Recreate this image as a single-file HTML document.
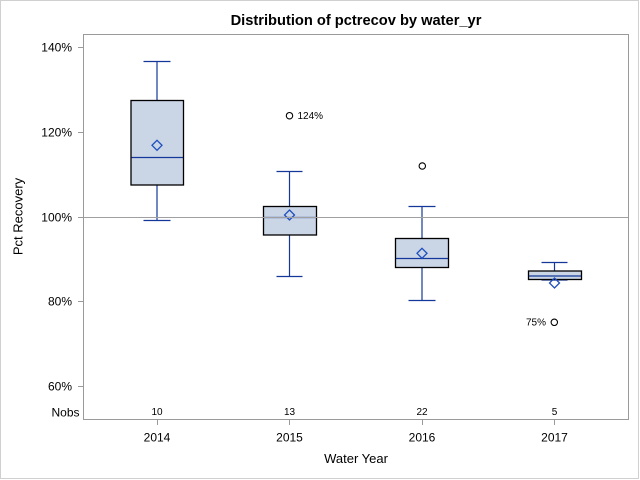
<!DOCTYPE html>
<html>
<head>
<meta charset="utf-8">
<style>
html,body{margin:0;padding:0;background:#fff;}
svg{display:block;}
text{font-family:"Liberation Sans",Arial,sans-serif;fill:#000;}
</style>
</head>
<body>
<svg width="640" height="480" viewBox="0 0 640 480" xmlns="http://www.w3.org/2000/svg">
  <rect x="0" y="0" width="640" height="480" fill="#fff"/>
  <rect x="0.5" y="0.5" width="638" height="478" fill="none" stroke="#d0d0d0" stroke-width="1"/>

  <!-- Title -->
  <text x="356" y="25" font-size="14.67" font-weight="bold" text-anchor="middle">Distribution of pctrecov by water_yr</text>

  <!-- Plot frame -->
  <rect x="83.5" y="34.5" width="545" height="385" fill="none" stroke="#9a9a9a" stroke-width="1"/>

  <!-- Y ticks -->
  <g stroke="#9a9a9a" stroke-width="1">
    <line x1="78" y1="47.5" x2="83" y2="47.5"/>
    <line x1="78" y1="132.5" x2="83" y2="132.5"/>
    <line x1="78" y1="217.5" x2="83" y2="217.5"/>
    <line x1="78" y1="301.5" x2="83" y2="301.5"/>
    <line x1="78" y1="386.5" x2="83" y2="386.5"/>
  </g>
  <g font-size="12" text-anchor="end">
    <text x="72" y="51.3">140%</text>
    <text x="72" y="136.3">120%</text>
    <text x="72" y="221.3">100%</text>
    <text x="72" y="305.3">80%</text>
    <text x="72" y="390.3">60%</text>
    <text x="79.5" y="416.5">Nobs</text>
  </g>

  <!-- Y axis label -->
  <text x="22.5" y="216.5" font-size="13" text-anchor="middle" transform="rotate(-90 22.5 216.5)">Pct Recovery</text>

  <!-- X ticks -->
  <g stroke="#9a9a9a" stroke-width="1">
    <line x1="157.5" y1="420" x2="157.5" y2="425"/>
    <line x1="289.5" y1="420" x2="289.5" y2="425"/>
    <line x1="422.5" y1="420" x2="422.5" y2="425"/>
    <line x1="554.5" y1="420" x2="554.5" y2="425"/>
  </g>
  <g font-size="12" text-anchor="middle">
    <text x="157" y="441.3">2014</text>
    <text x="289.5" y="441.3">2015</text>
    <text x="422" y="441.3">2016</text>
    <text x="554.5" y="441.3">2017</text>
  </g>
  <text x="356" y="463" font-size="13" text-anchor="middle">Water Year</text>

  <!-- Nobs -->
  <g font-size="10" text-anchor="middle">
    <text x="157" y="415">10</text>
    <text x="289.5" y="415">13</text>
    <text x="422" y="415">22</text>
    <text x="554.5" y="415">5</text>
  </g>

  <!-- 2014 -->
  <g stroke="#14389a" stroke-width="1.2" fill="none">
    <line x1="157" y1="61.5" x2="157" y2="100"/>
    <line x1="157" y1="185" x2="157" y2="220.5"/>
    <line x1="143.5" y1="61.5" x2="170.5" y2="61.5"/>
    <line x1="143.5" y1="220.5" x2="170.5" y2="220.5"/>
  </g>
  <rect x="131" y="100.5" width="52.5" height="84.5" fill="#cad5e5" stroke="#000" stroke-width="1.3"/>
  <line x1="131.5" y1="157.5" x2="183" y2="157.5" stroke="#14389a" stroke-width="1.2"/>
  <polygon points="157,140.3 162,145.3 157,150.3 152,145.3" fill="none" stroke="#1f4fbf" stroke-width="1.3"/>

  <!-- 2015 -->
  <g stroke="#14389a" stroke-width="1.2" fill="none">
    <line x1="289.5" y1="171.5" x2="289.5" y2="206.5"/>
    <line x1="289.5" y1="235" x2="289.5" y2="276.5"/>
    <line x1="276.5" y1="171.5" x2="302.5" y2="171.5"/>
    <line x1="276.5" y1="276.5" x2="302.5" y2="276.5"/>
  </g>
  <rect x="263.5" y="206.5" width="53" height="28.5" fill="#cad5e5" stroke="#000" stroke-width="1.3"/>
  <line x1="264" y1="217.5" x2="316" y2="217.5" stroke="#14389a" stroke-width="1.2"/>
  <polygon points="289.5,210 294.5,215 289.5,220 284.5,215" fill="none" stroke="#1f4fbf" stroke-width="1.3"/>
  <circle cx="289.5" cy="115.7" r="3.2" fill="none" stroke="#000" stroke-width="1.1"/>
  <text x="297.5" y="119" font-size="10">124%</text>

  <!-- 2016 -->
  <g stroke="#14389a" stroke-width="1.2" fill="none">
    <line x1="422" y1="206.5" x2="422" y2="238.5"/>
    <line x1="422" y1="267.5" x2="422" y2="300.5"/>
    <line x1="408.5" y1="206.5" x2="435.5" y2="206.5"/>
    <line x1="408.5" y1="300.5" x2="435.5" y2="300.5"/>
  </g>
  <rect x="395.5" y="238.5" width="53" height="29" fill="#cad5e5" stroke="#000" stroke-width="1.3"/>
  <line x1="396" y1="258.5" x2="448" y2="258.5" stroke="#14389a" stroke-width="1.2"/>
  <polygon points="422,248.3 427,253.3 422,258.3 417,253.3" fill="none" stroke="#1f4fbf" stroke-width="1.3"/>
  <circle cx="422.3" cy="166" r="3.2" fill="none" stroke="#000" stroke-width="1.1"/>

  <!-- 2017 -->
  <g stroke="#14389a" stroke-width="1.2" fill="none">
    <line x1="554.5" y1="262.5" x2="554.5" y2="271"/>
    <line x1="541.5" y1="262.5" x2="567.5" y2="262.5"/>
    <line x1="541.5" y1="280" x2="567.5" y2="280"/>
  </g>
  <rect x="528.5" y="271" width="53" height="8.5" fill="#cad5e5" stroke="#000" stroke-width="1.3"/>
  <line x1="529" y1="276" x2="581" y2="276" stroke="#14389a" stroke-width="1.2"/>
  <polygon points="554.5,278 559.5,283 554.5,288 549.5,283" fill="#fff" fill-opacity="0" stroke="#1f4fbf" stroke-width="1.3"/>
  <circle cx="554.3" cy="322.3" r="3.2" fill="none" stroke="#000" stroke-width="1.1"/>
  <text x="546" y="325.5" font-size="10" text-anchor="end">75%</text>

  <!-- Reference line at 100% -->
  <line x1="84" y1="217.5" x2="628" y2="217.5" stroke="#a0a0a0" stroke-width="1"/>
</svg>
</body>
</html>
